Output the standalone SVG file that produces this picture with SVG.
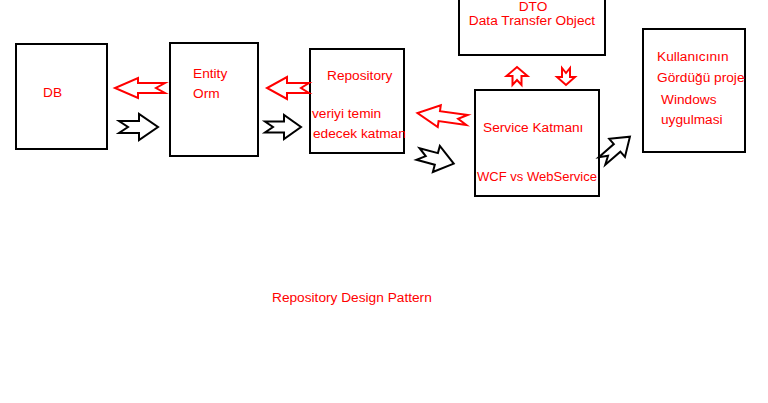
<svg xmlns="http://www.w3.org/2000/svg" width="768" height="403" viewBox="0 0 768 403">
<style>
.box{fill:#fff;stroke:#000;stroke-width:2}
.t{font-family:"Liberation Sans",Arial,sans-serif;font-size:13.7px;fill:#ff0000}
.ra{fill:#fff;stroke:#ff0000;stroke-width:2;stroke-linejoin:miter}
.ba{fill:#fff;stroke:#000;stroke-width:2;stroke-linejoin:miter}
</style>
<rect width="768" height="403" fill="#fff"/>
<g id="db"><rect class="box" x="16" y="44" width="91" height="105"/><text class="t" x="43" y="97">DB</text></g>
<g id="entity"><rect class="box" x="170" y="43" width="88" height="113"/><text class="t" x="193" y="78">Entity</text><text class="t" x="193" y="98">Orm</text></g>
<g id="repository"><rect class="box" x="310" y="49" width="94" height="104"/><text class="t" x="327" y="80">Repository</text><text class="t" x="312" y="118">veriyi temin</text><text class="t" x="313" y="138">edecek katman</text></g>
<g id="dto"><rect class="box" x="459" y="-10" width="146" height="65"/><text class="t" x="533" y="11" text-anchor="middle">DTO</text><text class="t" x="532" y="25" text-anchor="middle">Data Transfer Object</text></g>
<g id="service"><rect class="box" x="475" y="90" width="124" height="106"/><text class="t" x="483" y="132">Service Katmanı</text><text class="t" x="477" y="181" textLength="120" lengthAdjust="spacingAndGlyphs">WCF vs WebService</text></g>
<g id="client"><rect class="box" x="643" y="29" width="102" height="123"/><text class="t" x="657" y="61">Kullanıcının</text><text class="t" x="657" y="82">Gördüğü proje</text><text class="t" x="661" y="104">Windows</text><text class="t" x="661" y="124">uygulmasi</text></g>
<g id="connectors">
<path class="ra" transform="translate(165,88) rotate(180)" d="M0,-5 L27,-5 L27,-10 L50,0 L27,10 L27,5 L0,5 L9,0 Z"/>
<path class="ba" transform="translate(119,127)" d="M0,-6 L20,-6 L20,-13 L39,0 L20,13 L20,6 L0,6 L9,0 Z"/>
<path class="ra" transform="translate(309,88) rotate(180)" d="M0,-5 L22,-5 L22,-11 L42,0 L22,11 L22,5 L0,5 L8,0 Z"/>
<path class="ba" transform="translate(265,127)" d="M0,-5.5 L19,-5.5 L19,-12 L36,0 L19,12 L19,5.5 L0,5.5 L8,0 Z"/>
<path class="ra" transform="translate(467,120) rotate(188)" d="M0,-5 L28,-5 L28,-11 L50,0 L28,11 L28,5 L0,5 L9,0 Z"/>
<path class="ba" transform="translate(418,154) rotate(15)" d="M0,-6 L19,-6 L19,-13.5 L37,0 L19,13.5 L19,6 L0,6 L8,0 Z"/>
<path class="ra" transform="translate(517,85) rotate(-90)" d="M0,-4.5 L9,-4.5 L9,-10.5 L18,0 L9,10.5 L9,4.5 L0,4.5 L5,0 Z"/>
<path class="ra" transform="translate(566,68) rotate(90)" d="M0,-4 L9,-4 L9,-9 L17,0 L9,9 L9,4 L0,4 L5,0 Z"/>
<path class="ba" transform="translate(602,161) rotate(-41)" d="M0,-5 L20,-5 L20,-12 L37,0 L20,12 L20,5 L0,5 L8,0 Z"/>
</g>
<text class="t" x="272" y="302">Repository Design Pattern</text>
</svg>
